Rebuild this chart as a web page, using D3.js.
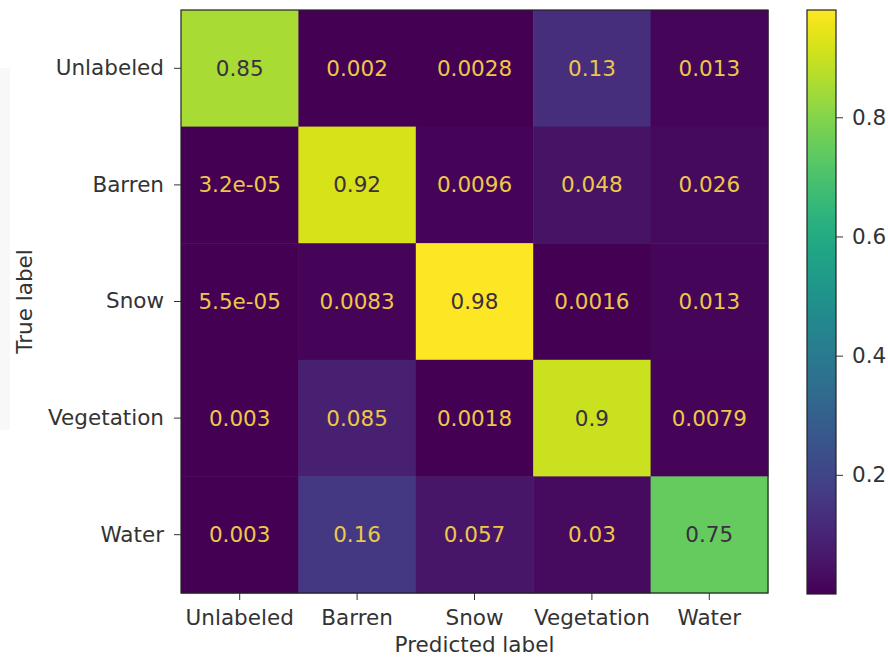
<!DOCTYPE html>
<html lang="en">
<head>
    <meta charset="UTF-8">
    <title>Confusion Matrix</title>
    <script src="https://d3js.org/d3.v7.min.js"></script>
    <style>
        body {
            margin: 0;
            background: #fff;
        }
        text {
            font-family: "DejaVu Sans", sans-serif;
        }
        .tick text {
            font-size: 21.5px;
            fill: #333;
        }
        .tick line {
            stroke: #333;
        }
        .axis-label {
            font-size: 21.5px;
            fill: #333;
        }
        .cell-text {
            font-size: 21.5px;
        }
    </style>
</head>
<body>
    <svg id="chart" width="888" height="659"></svg>

    <script>
        // Data
        const classes = ["Unlabeled", "Barren", "Snow", "Vegetation", "Water"];
        const rowUnlabeled = [0.85, 0.002, 0.0028, 0.13, 0.013];
        const rowBarren = [3.2e-05, 0.92, 0.0096, 0.048, 0.026];
        const rowSnow = [5.5e-05, 0.0083, 0.98, 0.0016, 0.013];
        const rowVegetation = [0.003, 0.085, 0.0018, 0.9, 0.0079];
        const rowWater = [0.003, 0.16, 0.057, 0.03, 0.75];
        const matrix = [rowUnlabeled, rowBarren, rowSnow, rowVegetation, rowWater];
        const colorbarTicks = [0.2, 0.4, 0.6, 0.8];

        // Layout
        const svg = d3.select("#chart");
        const mLeft = 181, mRight = 768, mTop = 10, mBottom = 593;
        const cbLeft = 807, cbRight = 836;

        const allVals = matrix.flat();
        const vmin = d3.min(allVals), vmax = d3.max(allVals);
        const color = d3.scaleSequential(d3.interpolateViridis).domain([vmin, vmax]);

        const x = d3.scaleBand().domain(classes).range([mLeft, mRight]);
        const y = d3.scaleBand().domain(classes).range([mTop, mBottom]);

        // faint panel at far left
        svg.append("rect")
            .attr("x", 0).attr("y", 68)
            .attr("width", 10).attr("height", 362)
            .attr("fill", "#f8f8f8");

        // cells
        const cells = [];
        matrix.forEach((row, i) => row.forEach((v, j) => cells.push({ r: classes[i], c: classes[j], v })));

        svg.append("g")
            .selectAll("rect")
            .data(cells)
            .enter()
            .append("rect")
            .attr("x", d => x(d.c))
            .attr("y", d => y(d.r))
            .attr("width", x.bandwidth() + 0.5)
            .attr("height", y.bandwidth() + 0.5)
            .attr("fill", d => color(d.v));

        // matplotlib-ish ".2g" formatting
        function fmt(v) {
            if (v < 1e-4) {
                const [m, e] = v.toExponential(1).split("e");
                const sign = e[0];
                const digits = e.slice(1).padStart(2, "0");
                return m + "e" + sign + digits;
            }
            return String(Number(v.toPrecision(2)));
        }

        const thresh = (vmin + vmax) / 2;
        svg.append("g")
            .selectAll("text")
            .data(cells)
            .enter()
            .append("text")
            .attr("class", "cell-text")
            .attr("x", d => x(d.c) + x.bandwidth() / 2)
            .attr("y", d => y(d.r) + y.bandwidth() / 2)
            .attr("text-anchor", "middle")
            .attr("dominant-baseline", "central")
            .attr("fill", d => d.v >= thresh ? "#3a3040" : "#ecc84a")
            .text(d => fmt(d.v));

        // frame
        svg.append("rect")
            .attr("x", mLeft).attr("y", mTop)
            .attr("width", mRight - mLeft).attr("height", mBottom - mTop)
            .attr("fill", "none").attr("stroke", "#222").attr("stroke-width", 1.2);

        // axes
        const xAxis = svg.append("g")
            .attr("transform", `translate(0,${mBottom})`)
            .call(d3.axisBottom(x).tickSize(7).tickPadding(10));
        xAxis.select(".domain").remove();

        const yAxis = svg.append("g")
            .attr("transform", `translate(${mLeft},0)`)
            .call(d3.axisLeft(y).tickSize(7).tickPadding(10));
        yAxis.select(".domain").remove();

        svg.append("text")
            .attr("class", "axis-label")
            .attr("x", (mLeft + mRight) / 2)
            .attr("y", 652)
            .attr("text-anchor", "middle")
            .text("Predicted label");

        svg.append("text")
            .attr("class", "axis-label")
            .attr("transform", `translate(32,${(mTop + mBottom) / 2}) rotate(-90)`)
            .attr("text-anchor", "middle")
            .text("True label");

        // colorbar
        const defs = svg.append("defs");
        const grad = defs.append("linearGradient")
            .attr("id", "cbgrad")
            .attr("x1", 0).attr("y1", 1).attr("x2", 0).attr("y2", 0);
        d3.range(0, 1.0001, 0.02).forEach(t => {
            grad.append("stop")
                .attr("offset", t)
                .attr("stop-color", d3.interpolateViridis(t));
        });

        const cbScale = d3.scaleLinear().domain([vmin, vmax]).range([mBottom + 1, mTop]);

        svg.append("rect")
            .attr("x", cbLeft).attr("y", mTop)
            .attr("width", cbRight - cbLeft).attr("height", mBottom + 1 - mTop)
            .attr("fill", "url(#cbgrad)")
            .attr("stroke", "#222").attr("stroke-width", 1.2);

        const cbAxis = svg.append("g")
            .attr("transform", `translate(${cbRight},0)`)
            .call(d3.axisRight(cbScale).tickValues(colorbarTicks).tickFormat(d3.format(".1f")).tickSize(7).tickPadding(9));
        cbAxis.select(".domain").remove();
    </script>
</body>
</html>
